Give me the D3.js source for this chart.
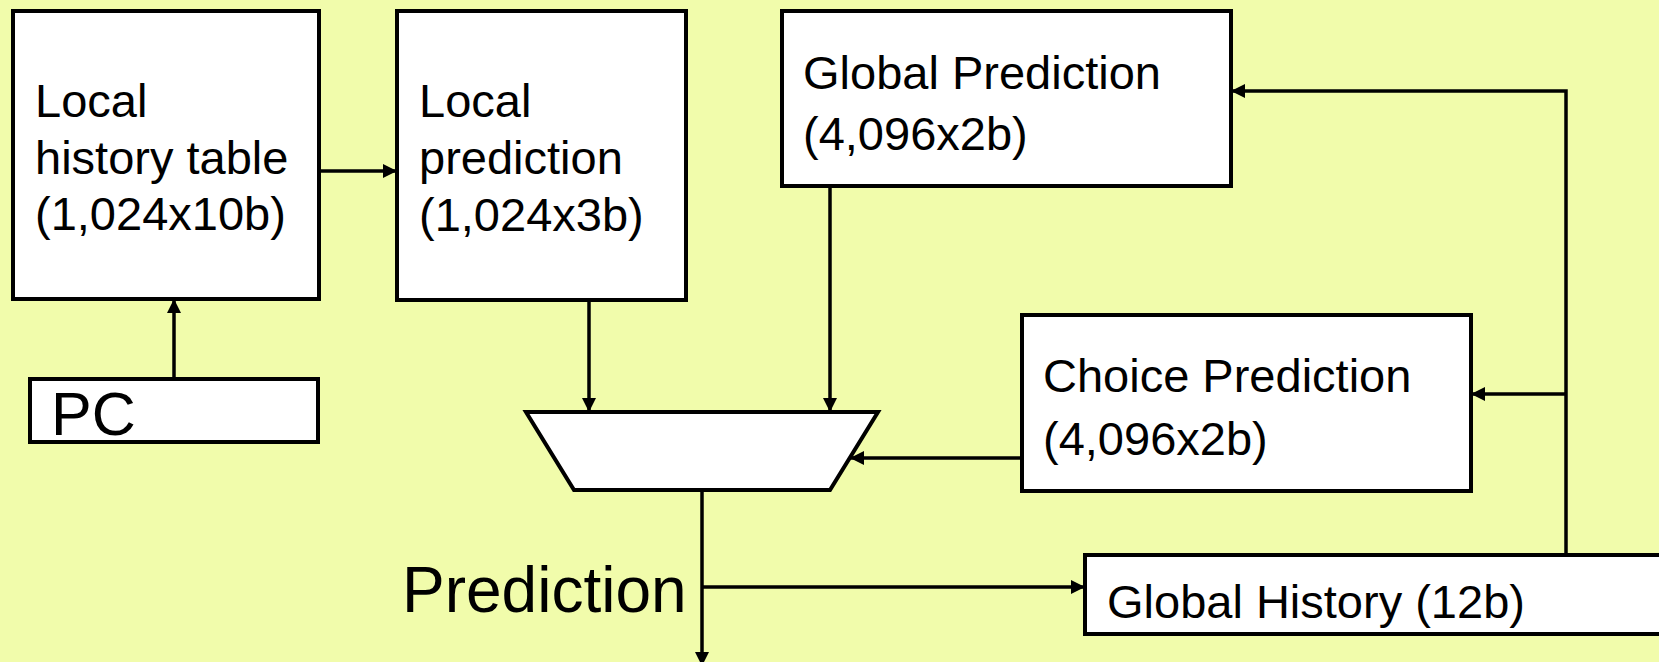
<!DOCTYPE html>
<html>
<head>
<meta charset="utf-8">
<script src="https://cdn.jsdelivr.net/npm/d3@7"></script>
<style>
  body { margin: 0; background: #f1fcab; overflow: hidden; }
  svg { display: block; }
</style>
</head>
<body>
<script>
// diagram content
const blockIds = ["lht", "lp", "gp", "cp", "gh", "pc"];
const blockLines = [
  ["Local", "history table", "(1,024x10b)"],
  ["Local", "prediction", "(1,024x3b)"],
  ["Global Prediction", "(4,096x2b)"],
  ["Choice Prediction", "(4,096x2b)"],
  ["Global History (12b)"],
  ["PC"],
];
const outputLabel = "Prediction";

// layout (design units, same as the 1659x662 picture)
const layout = {
  lht: { x: 13, y: 11, w: 306, h: 288, tx: 22, ty: 106, lh: 56.5, fs: 47 },
  lp: { x: 397, y: 11, w: 289, h: 289, tx: 22, ty: 106, lh: 57, fs: 47 },
  gp: { x: 782, y: 11, w: 449, h: 175, tx: 21, ty: 78, lh: 61, fs: 47 },
  cp: { x: 1022, y: 315, w: 449, h: 176, tx: 21, ty: 77, lh: 63, fs: 47 },
  gh: { x: 1085, y: 555, w: 620, h: 79, tx: 22, ty: 63, lh: 0, fs: 47 },
  pc: { x: 30, y: 379, w: 288, h: 63, tx: 21, ty: 56, lh: 0, fs: 61 },
};
const mux = [[526, 412], [878, 412], [830, 490], [574, 490]];
const wires = [
  [[319, 171], [397, 171]],
  [[174, 379], [174, 299]],
  [[589, 300], [589, 412]],
  [[830, 186], [830, 412]],
  [[1022, 458], [850, 458]],
  [[1566, 555], [1566, 91], [1231, 91]],
  [[1566, 394], [1471, 394]],
  [[702, 490], [702, 666]],
  [[702, 587], [1085, 587]],
];

// canvas variables
const width = 1659;
const height = 662;
const font = "'Liberation Sans', Arial, sans-serif";

const x = d3.scaleLinear().domain([0, 1659]).range([0, width]);
const y = d3.scaleLinear().domain([0, 662]).range([0, height]);

const svg = d3
  .select("body")
  .append("svg")
  .attr("width", width)
  .attr("height", height);

svg
  .append("rect")
  .attr("width", width)
  .attr("height", height)
  .attr("fill", "#f1fcab");

// arrow head
svg
  .append("defs")
  .append("marker")
  .attr("id", "arrow")
  .attr("markerUnits", "userSpaceOnUse")
  .attr("viewBox", "0 -8 15 16")
  .attr("refX", 14)
  .attr("refY", 0)
  .attr("markerWidth", 15)
  .attr("markerHeight", 16)
  .attr("orient", "auto")
  .append("path")
  .attr("d", "M0,-7L14,0L0,7Z")
  .attr("fill", "#000");

// wires
const line = d3
  .line()
  .x((d) => x(d[0]))
  .y((d) => y(d[1]));

svg
  .selectAll(".wire")
  .data(wires)
  .enter()
  .append("path")
  .attr("class", "wire")
  .attr("d", line)
  .attr("fill", "none")
  .attr("stroke", "#000")
  .attr("stroke-width", 3.5)
  .attr("marker-end", "url(#arrow)");

// multiplexer
svg
  .append("path")
  .attr("d", line(mux) + "Z")
  .attr("fill", "#fff")
  .attr("stroke", "#000")
  .attr("stroke-width", 4)
  .attr("stroke-linejoin", "miter");

// blocks
const blocks = svg
  .selectAll(".block")
  .data(blockIds)
  .enter()
  .append("g")
  .attr("class", "block");

blocks
  .append("rect")
  .attr("x", (d) => x(layout[d].x))
  .attr("y", (d) => y(layout[d].y))
  .attr("width", (d) => x(layout[d].w))
  .attr("height", (d) => y(layout[d].h))
  .attr("fill", "#fff")
  .attr("stroke", "#000")
  .attr("stroke-width", 4);

blocks
  .append("text")
  .attr("font-family", font)
  .attr("font-size", (d) => layout[d].fs)
  .attr("fill", "#000")
  .selectAll("tspan")
  .data((d, i) => blockLines[i].map((t, j) => ({ id: d, t: t, j: j })))
  .enter()
  .append("tspan")
  .attr("x", (d) => x(layout[d.id].x + layout[d.id].tx))
  .attr("y", (d) => y(layout[d.id].y + layout[d.id].ty + d.j * layout[d.id].lh))
  .text((d) => d.t);

// output label
svg
  .append("text")
  .attr("x", x(402))
  .attr("y", y(612))
  .attr("font-family", font)
  .attr("font-size", 64)
  .attr("fill", "#000")
  .text(outputLabel);
</script>
</body>
</html>
